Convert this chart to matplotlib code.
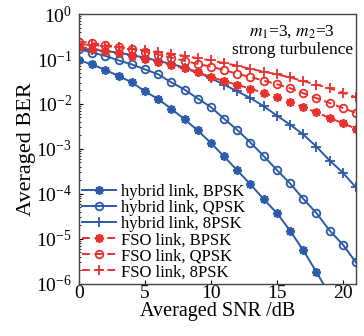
import matplotlib.pyplot as plt
import numpy as np
from matplotlib.ticker import LogLocator, NullFormatter

plt.rcParams['font.family'] = 'Liberation Serif'
plt.rcParams['mathtext.fontset'] = 'stix'

snr = np.arange(0, 22)

# log10(BER)
hyb_bpsk = [-1.03, -1.12, -1.245, -1.377, -1.52, -1.72, -1.89, -2.11, -2.34, -2.59, -2.87,
            -3.17, -3.48, -3.79, -4.12, -4.43, -4.82, -5.26, -5.74, -6.25]
hyb_qpsk = [-0.78, -0.857, -0.93, -1.03, -1.12, -1.23, -1.34, -1.52, -1.68, -1.88, -2.07,
            -2.33, -2.58, -2.86, -3.16, -3.47, -3.77, -4.11, -4.43, -4.82, -5.13, -5.53]
hyb_8psk = [-0.77, -0.79, -0.82, -0.86, -0.91, -0.97, -1.04, -1.11, -1.19, -1.29, -1.43,
            -1.57, -1.72, -1.87, -2.05, -2.26, -2.46, -2.68, -2.95, -3.26, -3.53, -3.86]
fso_bpsk = [-0.73, -0.77, -0.82, -0.87, -0.93, -0.99, -1.06, -1.13, -1.21, -1.30, -1.40,
            -1.49, -1.575, -1.66, -1.76, -1.85, -1.96, -2.07, -2.19, -2.31, -2.43, -2.55]
fso_qpsk = [-0.61, -0.645, -0.69, -0.73, -0.78, -0.84, -0.90, -0.97, -1.04, -1.11, -1.17,
            -1.245, -1.33, -1.40, -1.48, -1.56, -1.65, -1.76, -1.87, -1.98, -2.09, -2.20]
fso_8psk = [-0.67, -0.69, -0.71, -0.74, -0.77, -0.80, -0.84, -0.88, -0.93, -0.98, -1.03,
            -1.09, -1.15, -1.22, -1.28, -1.34, -1.41, -1.49, -1.57, -1.65, -1.75, -1.85]

blue = '#2b5aa8'
red = '#e8302c'
star = (8, 2, 0)

fig = plt.figure(figsize=(3.64, 3.36), dpi=100)
ax = fig.add_axes([0.217, 0.156, 0.761, 0.802])

series = [
    (hyb_bpsk, blue, '-', star, 'hybrid link, BPSK'),
    (hyb_qpsk, blue, '-', 'o', 'hybrid link, QPSK'),
    (hyb_8psk, blue, '-', '+', 'hybrid link, 8PSK'),
    (fso_bpsk, red, '--', star, 'FSO link, BPSK'),
    (fso_qpsk, red, '--', 'o', 'FSO link, QPSK'),
    (fso_8psk, red, '--', '+', 'FSO link, 8PSK'),
]
for vals, c, ls, m, lab in series:
    x = snr[:len(vals)]
    ms = {'o': 5.5, '+': 7}.get(m, 6.5) if isinstance(m, str) else 6.5
    ax.semilogy(x, 10.0 ** np.array(vals), color=c, ls=ls, marker=m, ms=ms,
                mfc='none' if m == 'o' else c, mew=1.3, lw=1.4, label=lab,
                dashes=(4, 2.5) if ls == '--' else (None, None))

ax.set_xlim(0, 21)
ax.set_ylim(1e-6, 1)
ax.set_xticks([0, 5, 10, 15, 20])
ax.yaxis.set_major_locator(LogLocator(base=10, numticks=10))
ax.yaxis.set_minor_locator(LogLocator(base=10, subs=np.arange(2, 10), numticks=10))
ax.yaxis.set_minor_formatter(NullFormatter())
ax.tick_params(direction='in', labelsize=14, length=3)
ax.tick_params(axis='x', pad=1)
ax.tick_params(axis='y', pad=5)
ax.tick_params(which='minor', direction='in', length=1.5)
for s in ax.spines.values():
    s.set_linewidth(1.0)
    s.set_color('#444444')

ax.set_xlabel('Averaged SNR /dB', fontsize=14.5, labelpad=0)
ax.set_ylabel('Averaged BER', fontsize=16, labelpad=0)

ax.text(0.77, 0.965, '$m_1$=3, $m_2$=3', transform=ax.transAxes, ha='center', va='top', fontsize=12.5)
ax.text(0.77, 0.895, 'strong turbulence', transform=ax.transAxes, ha='center', va='top', fontsize=12.5)

ax.legend(loc='lower left', frameon=False, fontsize=12, handlelength=2.0, handletextpad=0.3,
          labelspacing=0.0, borderaxespad=0.1, borderpad=0.1)

fig.savefig('out.png', dpi=100)
